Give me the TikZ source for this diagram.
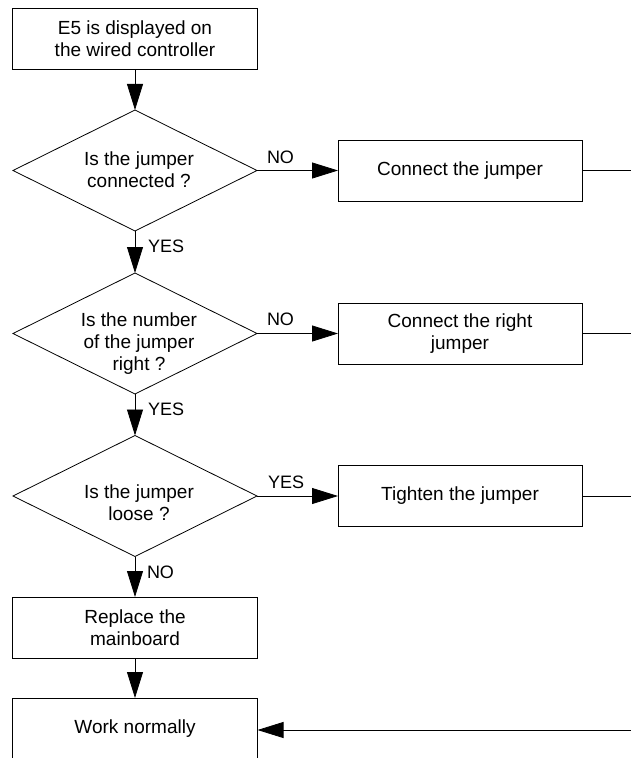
\documentclass[tikz,border=0pt]{standalone}
\usepackage{fontspec}
\setmainfont{Liberation Sans}
\usetikzlibrary{shapes.geometric,arrows.meta}
\begin{document}
\begin{tikzpicture}[x=1pt,y=-1pt,
  every node/.style={outer sep=0pt},
  stepbox/.style={draw, line width=0.8pt, minimum width=245pt, minimum height=61pt, inner sep=0pt, align=center, font=\fontsize{19}{22}\selectfont},
  dia/.style={draw, line width=0.8pt, shape=diamond, inner sep=0pt, minimum width=244pt, minimum height=121pt},
  txt/.style={align=center, inner sep=0pt, font=\fontsize{19}{22}\selectfont},
  lbl/.style={inner sep=0pt, font=\fontsize{18}{21}\selectfont},
  conn/.style={line width=0.8pt},
  arr/.style={line width=0.8pt, -{Triangle[length=26pt,width=16pt]}}]
\useasboundingbox (0,0) rectangle (631,758);
\clip (0,0) rectangle (631,758);
% main column
\node[stepbox] (b1) at (135,38.5) {E5 is displayed on\\the wired controller};
\node[dia] (d1) at (135,170.5) {};
\node[txt] (t1) at (139,170) {Is the jumper\\connected ?};
\node[dia] (d2) at (135,333.5) {};
\node[txt] (t2) at (139,344) {Is the number\\of the jumper\\right ?};
\node[dia] (d3) at (135,496) {};
\node[txt] (t3) at (139,503) {Is the jumper\\loose ?};
\node[stepbox] (rep) at (135,627.5) {Replace the\\mainboard};
\node[stepbox, minimum height=62pt] (work) at (135,729) {Work normally};
% right column
\node[stepbox, minimum width=244pt] (r1) at (460,170.5) {Connect the jumper};
\node[stepbox, minimum width=244pt] (r2) at (460,333.5) {Connect the right\\jumper};
\node[stepbox, minimum width=244pt] (r3) at (460,496) {Tighten the jumper};
% off-page coordinates
\coordinate (e1) at (645,170.5);
\coordinate (e2) at (645,333.5);
\coordinate (e3) at (645,496);
\coordinate (e4) at (645,730);
% vertical flow
\draw[arr] (b1) -- (d1);
\draw[arr] (d1) -- (d2);
\draw[arr] (d2) -- (d3);
\draw[arr] (d3) -- (rep);
\draw[arr] (rep) -- (work);
% horizontal flow
\draw[arr] (d1) -- (r1);
\draw[arr] (d2) -- (r2);
\draw[arr] (d3) -- (r3);
\draw[conn] (r1) -- (e1);
\draw[conn] (r2) -- (e2);
\draw[conn] (r3) -- (e3);
\draw[arr] (e4) -- (work.east |- e4);
% labels
\node[lbl, anchor=base west] (l1) at (148,252) {YES};
\node[lbl, anchor=base west] (l2) at (148,415) {YES};
\node[lbl, anchor=base west] (l3) at (147,578) {NO};
\node[lbl, anchor=base west] (l4) at (267,163) {NO};
\node[lbl, anchor=base west] (l5) at (267,325.5) {NO};
\node[lbl, anchor=base west] (l6) at (268,488) {YES};
\end{tikzpicture}
\end{document}
